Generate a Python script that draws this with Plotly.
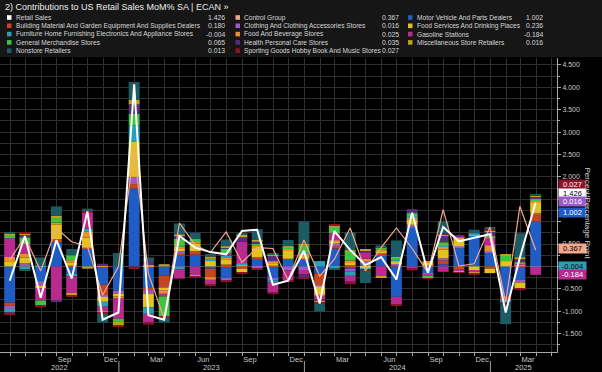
import pandas as pd
import plotly.graph_objects as go

# ---------------- data ----------------
months = ["2022-05", "2022-06", "2022-07", "2022-08", "2022-09", "2022-10", "2022-11", "2022-12",
          "2023-01", "2023-02", "2023-03", "2023-04", "2023-05", "2023-06", "2023-07", "2023-08",
          "2023-09", "2023-10", "2023-11", "2023-12", "2024-01", "2024-02", "2024-03", "2024-04",
          "2024-05", "2024-06", "2024-07", "2024-08", "2024-09", "2024-10", "2024-11", "2024-12",
          "2025-01", "2025-02", "2025-03"]

retail_sales = [-0.32, 0.68, -0.70, 0.59, -0.27, 1.23, -1.19, -1.03, 4.07, -1.09,
                -1.19, 0.68, 0.42, 0.32, 0.27, 0.79, 0.82, -0.41, -0.32, 0.35,
                -0.83, 0.79, 0.37, 0.03, 0.21, -0.29, 1.20, -0.14, 0.88, 0.56,
                0.64, 0.72, -1.03, 0.20, 1.426]
control_group = [0.14, 0.66, -0.10, 0.85, 0.55, 0.45, -0.64, -0.01, 2.60, -0.16,
                 -1.17, 0.97, 0.48, 0.31, 0.77, 0.09, 0.42, 0.40, -0.31, 0.59,
                 -0.22, 0.16, 0.86, -0.10, 0.42, 0.86, 0.40, -0.14, 1.27, 0.01,
                 0.06, 0.88, -0.80, 1.34, 0.367]

motor_vehicle = [-0.81, 0.00, -0.34, 0.54, -0.16, 0.40, -0.41, -0.54, 1.74, -0.50,
                 -0.20, 0.26, 0.26, -0.05, -0.26, 0.00, 0.18, -0.28, 0.17, 0.15,
                 -0.16, 0.40, -0.05, 0.06, 0.25, -0.68, 0.88, -0.15, 0.05, 0.43,
                 0.68, 0.30, -0.66, -0.32, 1.002]
building_material = [-0.07, 0.02, -0.01, 0.07, 0.02, 0.02, -0.24, 0.00, 0.10, -0.03,
                     -0.26, 0.03, 0.08, -0.19, 0.04, -0.05, 0.03, 0.02, 0.00, 0.03,
                     -0.26, 0.07, 0.03, 0.03, 0.03, 0.05, 0.02, 0.02, 0.08, -0.06,
                     0.02, -0.05, -0.08, 0.02, 0.180]
clothing = [-0.07, 0.05, -0.09, 0.00, 0.00, 0.00, -0.03, -0.07, 0.16, -0.08,
            -0.04, 0.05, 0.00, 0.00, -0.05, 0.00, -0.04, -0.03, -0.09, -0.08,
            -0.03, 0.04, -0.06, 0.03, 0.03, 0.02, 0.03, -0.02, 0.05, 0.02,
            0.00, 0.04, -0.02, -0.04, 0.016]
food_services = [0.10, 0.13, -0.04, 0.32, 0.06, 0.22, -0.11, -0.06, 0.78, -0.30,
                 -0.03, 0.05, 0.17, 0.12, 0.12, -0.08, 0.20, 0.05, 0.19, 0.05,
                 -0.18, 0.05, 0.06, -0.04, 0.02, 0.04, 0.11, 0.06, 0.20, 0.17,
                 -0.10, -0.10, 0.12, -0.14, 0.236]
food_beverage = [0.11, 0.09, 0.00, 0.05, 0.06, 0.13, 0.02, -0.05, 0.00, 0.04,
                 -0.07, 0.05, 0.05, -0.06, 0.05, 0.05, 0.05, 0.03, 0.03, 0.05,
                 -0.02, 0.02, 0.04, 0.05, 0.04, 0.03, 0.06, 0.02, 0.06, 0.02,
                 0.02, 0.12, 0.00, 0.02, 0.025]
furniture = [-0.07, -0.07, 0.01, 0.00, -0.06, 0.07, -0.11, 0.00, 0.37, -0.15,
             -0.03, -0.06, 0.02, 0.05, 0.03, 0.02, 0.03, -0.05, 0.02, 0.03,
             0.12, -0.04, -0.10, -0.02, 0.02, 0.03, 0.02, -0.02, 0.02, 0.02,
             0.02, 0.02, -0.02, 0.01, -0.004]
gasoline = [0.42, 0.21, -0.28, -0.76, -0.39, 0.37, -0.11, -0.45, 0.00, -0.19,
            -0.04, -0.20, -0.20, -0.10, 0.05, 0.48, 0.00, -0.22, -0.22, -0.10,
            -0.08, 0.16, -0.12, 0.13, -0.22, -0.17, -0.05, -0.04, -0.12, -0.05,
            -0.04, 0.16, -0.03, 0.02, -0.184]
general_merch = [0.08, 0.15, -0.11, 0.10, 0.11, 0.00, -0.02, -0.07, 0.26, 0.00,
                 -0.45, 0.18, 0.03, 0.00, 0.11, 0.00, 0.02, 0.02, 0.02, 0.15,
                 -0.02, 0.15, 0.20, 0.02, 0.03, 0.02, 0.07, -0.03, 0.08, 0.00,
                 0.00, 0.03, 0.12, 0.02, 0.065]
health = [-0.02, 0.07, 0.00, -0.02, 0.00, 0.00, 0.04, 0.00, 0.21, 0.06,
          0.00, 0.07, 0.00, 0.00, 0.02, 0.10, 0.04, 0.13, 0.00, -0.06,
          -0.03, 0.00, -0.04, 0.04, 0.01, 0.00, 0.09, 0.00, 0.14, 0.04,
          0.00, 0.10, -0.02, 0.09, 0.035]
misc_store = [0.02, 0.02, 0.00, 0.05, -0.04, -0.05, 0.00, -0.07, 0.10, 0.00,
              0.05, 0.02, -0.03, 0.05, 0.03, 0.06, 0.05, 0.02, 0.02, 0.05,
              -0.03, 0.02, 0.03, 0.02, -0.02, 0.02, 0.00, 0.00, 0.03, -0.02,
              -0.02, 0.04, 0.02, 0.02, 0.016]
sporting = [-0.05, 0.03, -0.04, 0.00, -0.03, 0.04, -0.03, -0.03, -0.06, -0.05,
            -0.02, -0.02, -0.02, -0.04, -0.04, -0.02, -0.03, -0.03, -0.04, -0.03,
            -0.02, 0.03, -0.03, -0.03, 0.00, -0.02, -0.04, -0.01, 0.02, -0.01,
            -0.01, 0.03, -0.02, -0.03, 0.027]
nonstore = [0.04, -0.02, 0.19, 0.21, 0.14, 0.04, -0.19, 0.30, 0.40, 0.10,
            -0.11, 0.25, 0.14, 0.06, 0.15, 0.03, 0.23, 0.02, 0.14, 0.49,
            -0.18, -0.03, 0.40, -0.28, 0.04, 0.37, 0.00, 0.00, 0.28, 0.00,
            0.08, 0.04, -0.44, 0.54, 0.013]

y_tick_values = [-1.5, -1.0, -0.5, 0.0, 0.5, 1.0, 1.5, 2.0, 2.5, 3.0, 3.5, 4.0, 4.5]
y_tick_hidden = [0.0, 1.0, 1.5]  # covered by the value tags in the original
x_tick_months = ["2022-09", "2022-12", "2023-03", "2023-06", "2023-09", "2023-12",
                 "2024-03", "2024-06", "2024-09", "2024-12", "2025-03"]
x_tick_labels = ["Sep", "Dec", "Mar", "Jun", "Sep", "Dec", "Mar", "Jun", "Sep", "Dec", "Mar"]
years = ["2022", "2023", "2024", "2025"]

# ---------------- styling ----------------
C = {
    "Retail Sales": "#ffffff",
    "Control Group": "#f2a88c",
    "Motor Vehicle And Parts Dealers": "#1f5cc4",
    "Building Material And Garden Equipment And Supplies Dealers": "#c4461e",
    "Clothing And Clothing Accessories Stores": "#9b5bc8",
    "Food Services And Drinking Places": "#e2c21e",
    "Food And Beverage Stores": "#e8902a",
    "Furniture Home Furnishing Electronics And Appliance Stores": "#28a0b6",
    "Gasoline Stations": "#b82a8e",
    "General Merchandise Stores": "#3ec43e",
    "Health Personal Care Stores": "#5a2d78",
    "Miscellaneous Store Retailers": "#c0a01c",
    "Sporting Goods Hobby Book And Music Stores": "#8c1428",
    "Nonstore Retailers": "#1d5b63",
}

stack = [
    ("Motor Vehicle And Parts Dealers", motor_vehicle),
    ("Building Material And Garden Equipment And Supplies Dealers", building_material),
    ("Clothing And Clothing Accessories Stores", clothing),
    ("Food Services And Drinking Places", food_services),
    ("Food And Beverage Stores", food_beverage),
    ("Furniture Home Furnishing Electronics And Appliance Stores", furniture),
    ("Gasoline Stations", gasoline),
    ("General Merchandise Stores", general_merch),
    ("Health Personal Care Stores", health),
    ("Miscellaneous Store Retailers", misc_store),
    ("Sporting Goods Hobby Book And Music Stores", sporting),
    ("Nonstore Retailers", nonstore),
]
series = dict(stack)
series["Retail Sales"] = retail_sales
series["Control Group"] = control_group

dates = pd.to_datetime(months) + pd.offsets.MonthEnd(0)
FONT = "Liberation Sans"

fig = go.Figure()
for name, vals in stack:
    fig.add_trace(go.Bar(x=dates, y=vals, name=name, marker_color=C[name],
                         marker_line_width=0, width=21.5 * 86400000))
fig.add_trace(go.Scatter(x=dates, y=control_group, mode="lines", name="Control Group",
                         line=dict(color=C["Control Group"], width=1.2)))
fig.add_trace(go.Scatter(x=dates, y=retail_sales, mode="lines", name="Retail Sales",
                         line=dict(color=C["Retail Sales"], width=2)))

# plot-area geometry in pixels (for header/annotation placement)
W, H = 602, 372
PL, PR, PT, PB = 0, 557, 58, 352


def px(X):
    return (X - PL) / (PR - PL)


def py(Y):
    return (PB - Y) / (PB - PT)


shapes = []
annotations = []

# header background
shapes.append(dict(type="rect", xref="paper", yref="paper", x0=px(0), x1=px(W),
                   y0=py(57), y1=py(0), fillcolor="#161616", line_width=0, layer="below"))
annotations.append(dict(xref="paper", yref="paper", x=px(3), y=py(6.5), xanchor="left",
                        yanchor="middle", showarrow=False,
                        text="2) Contributions to US Retail Sales MoM% SA | ECAN »",
                        font=dict(family=FONT, size=9, color="#ececec")))

# custom legend with last values
legend_cols = [
    (7, 13.5, 227, ["Retail Sales",
                     "Building Material And Garden Equipment And Supplies Dealers",
                     "Furniture Home Furnishing Electronics And Appliance Stores",
                     "General Merchandise Stores", "Nonstore Retailers"]),
    (235.5, 242, 401, ["Control Group", "Clothing And Clothing Accessories Stores",
                       "Food And Beverage Stores", "Health Personal Care Stores",
                       "Sporting Goods Hobby Book And Music Stores"]),
    (408, 415, 545, ["Motor Vehicle And Parts Dealers", "Food Services And Drinking Places",
                     "Gasoline Stations", "Miscellaneous Store Retailers"]),
]
row_y = [17.5, 25.8, 34.1, 42.4, 50.7]
for sq_x, name_x, val_x, names in legend_cols:
    for r, name in enumerate(names):
        Y = row_y[r]
        shapes.append(dict(type="rect", xref="paper", yref="paper",
                           x0=px(sq_x), x1=px(sq_x + 4.5), y0=py(Y + 2.3), y1=py(Y - 2.3),
                           fillcolor=C[name], line_width=0))
        annotations.append(dict(xref="paper", yref="paper", x=px(name_x), y=py(Y),
                                xanchor="left", yanchor="middle", showarrow=False, text=name,
                                font=dict(family=FONT, size=6.6, color="#d6d6d6")))
        annotations.append(dict(xref="paper", yref="paper", x=px(val_x), y=py(Y),
                                xanchor="right", yanchor="middle", showarrow=False,
                                text=f"{series[name][-1]:.3f}",
                                font=dict(family=FONT, size=6.8, color="#d6d6d6")))

# right-side value tags (label positions de-overlapped as in the original)
tags = [
    ("Sporting Goods Hobby Book And Music Stores", 1.84, "#ffffff"),
    ("Retail Sales", 1.64, "#000000"),
    ("Clothing And Clothing Accessories Stores", 1.44, "#ffffff"),
    ("Motor Vehicle And Parts Dealers", 1.21, "#ffffff"),
    ("Control Group", 0.41, "#000000"),
    ("Furniture Home Furnishing Electronics And Appliance Stores", 0.00, "#000000"),
    ("Gasoline Stations", -0.17, "#ffffff"),
]
for name, ypos, tc in tags:
    annotations.append(dict(xref="paper", yref="y", x=px(557.5), y=ypos, xanchor="left",
                            yanchor="middle", showarrow=False, text=f"{series[name][-1]:.3f}",
                            bgcolor=C[name], width=27, height=9, borderpad=0,
                            font=dict(family=FONT, size=7.5, color=tc)))

# axis title on the right
annotations.append(dict(xref="paper", yref="paper", x=px(594), y=py(213), textangle=90,
                        showarrow=False, text="Percent/Percentage Point",
                        font=dict(family=FONT, size=8, color="#d0d0d0")))

# year labels and separators
x_start, x_end = pd.Timestamp("2022-05-12"), pd.Timestamp("2025-05-12")
for yr in years:
    a = max(pd.Timestamp(f"{yr}-01-01"), x_start)
    b = min(pd.Timestamp(f"{int(yr) + 1}-01-01"), x_end)
    annotations.append(dict(xref="x", yref="paper", x=a + (b - a) / 2, y=py(367.5),
                            xanchor="center", yanchor="middle", showarrow=False, text=yr,
                            font=dict(family=FONT, size=7.5, color="#c8c8c8")))
    if int(yr) > int(years[0]):
        shapes.append(dict(type="line", xref="x", yref="paper",
                           x0=pd.Timestamp(f"{yr}-01-01"), x1=pd.Timestamp(f"{yr}-01-01"),
                           y0=py(361), y1=py(372), line=dict(color="#a0a0a0", width=1)))

tick_dates = [pd.Timestamp(m + "-16") for m in x_tick_months]

fig.update_layout(
    width=W, height=H,
    margin=dict(l=PL, r=W - PR, t=PT, b=H - PB, autoexpand=False),
    paper_bgcolor="#000000", plot_bgcolor="#000000",
    barmode="relative", showlegend=False,
    font=dict(family=FONT, color="#c8c8c8"),
    shapes=shapes, annotations=annotations,
    xaxis=dict(
        type="date", range=[x_start, x_end], automargin=False,
        tickvals=tick_dates, ticktext=x_tick_labels, ticks="", showgrid=False,
        tickfont=dict(family=FONT, size=7.5, color="#c8c8c8"),
        showline=True, linecolor="#a8a8a8", linewidth=1, zeroline=False,
        minor=dict(dtick="M1", tick0="2022-06-01", ticks="outside", ticklen=3,
                   tickcolor="#a8a8a8", showgrid=True, gridcolor="#303030", gridwidth=1),
    ),
    yaxis=dict(
        side="right", range=[-1.912, 4.656], automargin=False,
        tickvals=y_tick_values,
        ticktext=["" if v in y_tick_hidden else f"{v:.3f}" for v in y_tick_values],
        ticks="outside", ticklen=3, tickcolor="#a8a8a8",
        tickfont=dict(family=FONT, size=7, color="#c8c8c8"),
        showgrid=True, gridcolor="#303030", gridwidth=1,
        showline=True, linecolor="#a8a8a8", linewidth=1,
        zeroline=True, zerolinecolor="#4a4a4a", zerolinewidth=1,
        minor=dict(dtick=0.25, tick0=0, ticks="outside", ticklen=2, tickcolor="#a8a8a8",
                   showgrid=True, gridcolor="#303030", gridwidth=1),
    ),
)

fig.write_html("out.html", config={"displayModeBar": False},
               post_script="document.body.style.margin='0';document.body.style.background='#000';")
